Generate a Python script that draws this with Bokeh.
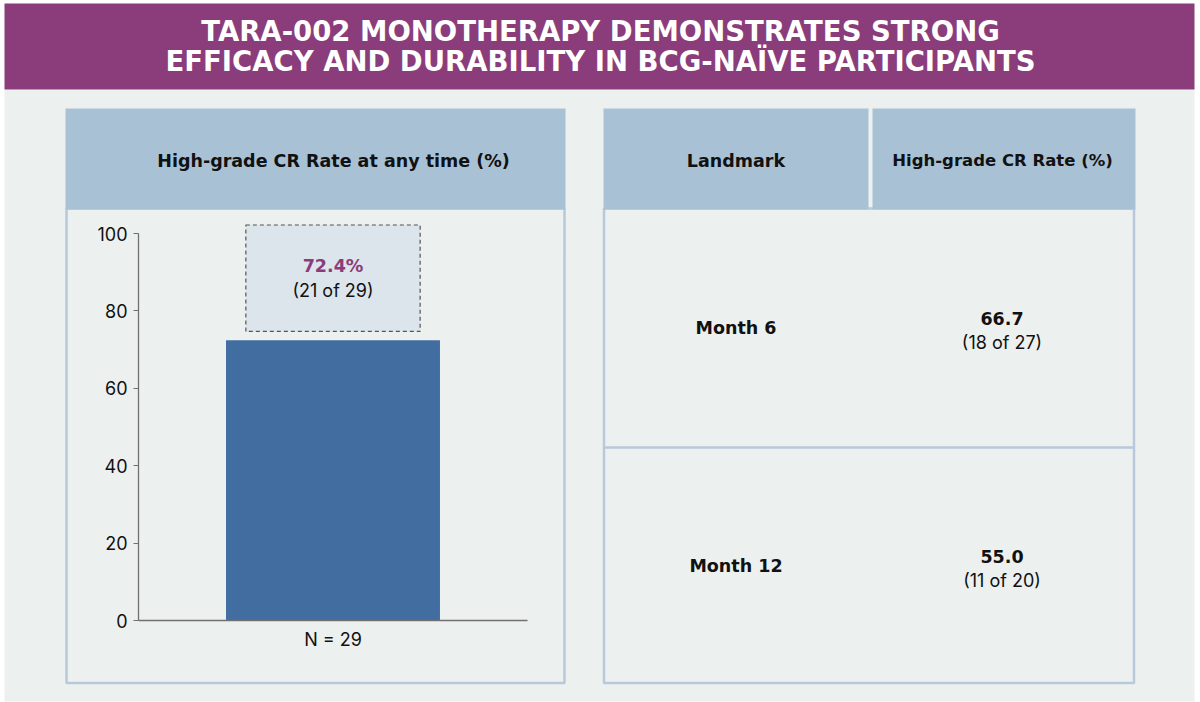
from bokeh.plotting import figure
from bokeh.models import Range1d, LinearAxis, FixedTicker, ColumnDataSource
from bokeh.core.properties import value
from bokeh.embed import file_html
from bokeh.resources import INLINE

# ---------------- data ----------------
title_lines = ["TARA-002 MONOTHERAPY DEMONSTRATES STRONG",
               "EFFICACY AND DURABILITY IN BCG-NAÏVE PARTICIPANTS"]
left_header = "High-grade CR Rate at any time (%)"
bar_category = ["N = 29"]
bar_value = [72.4]
bar_label_pct = ["72.4%"]
bar_label_n = ["(21 of 29)"]
y_ticks = [0, 20, 40, 60, 80, 100]
table_headers = ["Landmark", "High-grade CR Rate (%)"]
landmarks = ["Month 6", "Month 12"]
cr_rates = ["66.7", "55.0"]
cr_counts = ["(18 of 27)", "(11 of 20)"]

# ---------------- style ----------------
PURPLE = "#8A3D7A"
HEADER = "#A9C1D5"
BORDER = "#B7C9DA"
BG = "#ECF0EF"
BAR = "#426DA1"
BOXFILL = "#DCE4EC"
FONT_NAME = "Inter"
FONT = value(FONT_NAME)
BFONT = value("DejaVu Sans")
W, H = 1200, 702

p = figure(width=W, height=H, x_range=Range1d(0, W), y_range=Range1d(H, 0),
           x_axis_type=None, y_axis_type=None, toolbar_location=None,
           output_backend="svg", min_border=0, outline_line_color=None,
           background_fill_color="white", border_fill_color="white")

# chart coordinate systems (bar chart inside left panel)
PX_PER_PCT = 3.87
Y0 = 620.0
p.extra_y_ranges = {"pct": Range1d(-(H - Y0) / PX_PER_PCT, Y0 / PX_PER_PCT)}
AX_X0, AX_LEN = 138.0, 389.0
p.extra_x_ranges = {"bx": Range1d(-AX_X0 / AX_LEN, (W - AX_X0) / AX_LEN)}

# background + title band
p.quad(left=[4], right=[1194], top=[89], bottom=[701], fill_color=BG, line_color=None)
p.quad(left=[4], right=[1194], top=[3], bottom=[89], fill_color=PURPLE, line_color=None)
p.text(x=[600, 600], y=[30, 60], text=title_lines, text_color="white",
       text_font=BFONT, text_font_style="bold", text_font_size="27.5px",
       text_align="center", text_baseline="middle")

# panels
p.quad(left=[66, 603.5], right=[564, 1133.5], top=[208, 208], bottom=[682.5, 682.5],
       fill_color=BG, line_color=BORDER, line_width=2.5)
p.quad(left=[65, 603, 872], right=[565, 868, 1135], top=[108, 108, 108],
       bottom=[209, 209, 209], fill_color=HEADER, line_color=None)
p.segment(x0=[604], y0=[447], x1=[1133], y1=[447], line_color=BORDER, line_width=2.5)

hdr_kw = dict(text_font=BFONT, text_font_style="bold", text_font_size="17.5px",
              text_color="#111111", text_align="center", text_baseline="middle")
p.text(x=[333], y=[160], text=[left_header], **hdr_kw)
p.text(x=[735.5], y=[160], text=table_headers[:1], **hdr_kw)
p.text(x=[1002], y=[160], text=table_headers[1:], text_font=BFONT,
       text_font_style="bold", text_font_size="16.5px", text_color="#111111",
       text_align="center", text_baseline="middle")

# table body
row_tops = [208, 447]
row_bots = [447, 683]
row_c = [(a + b) / 2 for a, b in zip(row_tops, row_bots)]
p.text(x=[735.5] * 2, y=row_c, text=landmarks, **hdr_kw)
p.text(x=[1001.5] * 2, y=[c - 9.5 for c in row_c], text=cr_rates, **hdr_kw)
p.text(x=[1001.5] * 2, y=[c + 14.5 for c in row_c], text=cr_counts,
       text_font=FONT, text_font_size="18px", text_color="#111111",
       text_align="center", text_baseline="middle")

# bar chart
src = ColumnDataSource(dict(x=[0.5], top=bar_value, cat=bar_category))
p.vbar(x="x", top="top", bottom=0, width=0.55, source=src, fill_color=BAR,
       line_color=None, x_range_name="bx", y_range_name="pct")

# label box above the bar
p.quad(left=[0.5 - 0.224], right=[0.5 + 0.224], bottom=[74.7], top=[102.2],
       fill_color=BOXFILL, line_color="#555555", line_width=1.2, line_dash="4 3",
       x_range_name="bx", y_range_name="pct")
p.text(x=[0.5], y=[91.7], text=bar_label_pct, text_font=BFONT, text_font_style="bold",
       text_font_size="17.5px", text_color=PURPLE, text_align="center",
       text_baseline="middle", x_range_name="bx", y_range_name="pct")
p.text(x=[0.5], y=[85.3], text=bar_label_n, text_font=FONT, text_font_size="18px",
       text_color="#111111", text_align="center", text_baseline="middle",
       x_range_name="bx", y_range_name="pct")

axis_kw = dict(axis_line_color="#707070", axis_line_width=1.3,
               major_tick_line_color="#707070", major_tick_in=0,
               minor_tick_out=0, minor_tick_in=0,
               major_label_text_font=FONT_NAME, major_label_text_font_size="18px",
               major_label_text_color="#111111")
yax = LinearAxis(y_range_name="pct", fixed_location=AX_X0,
                 ticker=FixedTicker(ticks=y_ticks), bounds=(0, 100),
                 major_tick_out=5, major_label_standoff=6, **axis_kw)
p.add_layout(yax, "left")
xax = LinearAxis(x_range_name="bx", y_range_name="pct", fixed_location=0,
                 ticker=FixedTicker(ticks=[0.5]), bounds=(0, 1),
                 major_label_overrides={0.5: bar_category[0]},
                 major_tick_out=0, major_label_standoff=8, **axis_kw)
p.add_layout(xax, "below")

open("out.html", "w").write(file_html(p, INLINE))
